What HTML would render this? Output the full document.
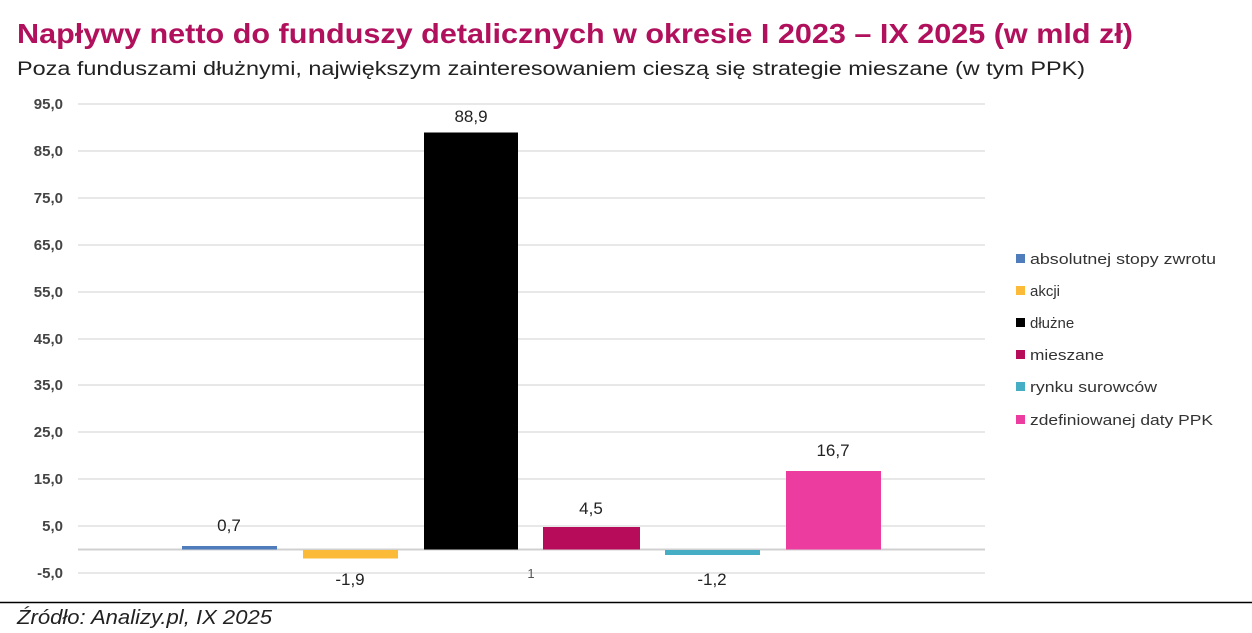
<!DOCTYPE html><html><head><meta charset="utf-8"><style>
body{margin:0;width:1252px;height:633px;background:#fff;overflow:hidden;font-family:"Liberation Sans",sans-serif;position:relative}
.a{position:absolute;white-space:nowrap}
</style></head><body>
<svg class="a" style="left:0;top:0" width="1252" height="633">
<text x="17" y="43" font-size="28" font-weight="bold" fill="#b0105c" textLength="1116" lengthAdjust="spacingAndGlyphs">Napływy netto do funduszy detalicznych w okresie I 2023 – IX 2025 (w mld zł)</text>
<text x="17" y="75" font-size="19" fill="#222" textLength="1068" lengthAdjust="spacingAndGlyphs">Poza funduszami dłużnymi, największym zainteresowaniem cieszą się strategie mieszane (w tym PPK)</text>
<g stroke="#e8e8e8" stroke-width="2">
<line x1="78" x2="985" y1="104" y2="104"/><line x1="78" x2="985" y1="151" y2="151"/><line x1="78" x2="985" y1="198" y2="198"/><line x1="78" x2="985" y1="245" y2="245"/><line x1="78" x2="985" y1="292" y2="292"/><line x1="78" x2="985" y1="339" y2="339"/><line x1="78" x2="985" y1="385" y2="385"/><line x1="78" x2="985" y1="432" y2="432"/><line x1="78" x2="985" y1="479" y2="479"/><line x1="78" x2="985" y1="526" y2="526"/><line x1="78" x2="985" y1="573" y2="573"/>
</g>
<line x1="78" x2="985" y1="549.5" y2="549.5" stroke="#d0d0d0" stroke-width="2"/>
<g font-size="15" fill="#444" text-anchor="end" font-weight="bold">
<text x="63" y="109">95,0</text><text x="63" y="156">85,0</text><text x="63" y="203">75,0</text><text x="63" y="250">65,0</text><text x="63" y="297">55,0</text><text x="63" y="344">45,0</text><text x="63" y="390">35,0</text><text x="63" y="437">25,0</text><text x="63" y="484">15,0</text><text x="63" y="531">5,0</text><text x="63" y="578">-5,0</text>
</g>
<rect x="182" y="546" width="95" height="3.5" fill="#4f7dbc"/>
<rect x="303" y="550" width="95" height="8.5" fill="#fbbb38"/>
<rect x="424" y="132.5" width="94" height="417" fill="#000"/>
<rect x="543" y="527" width="97" height="22.5" fill="#b70c5a"/>
<rect x="665" y="550" width="95" height="5" fill="#45adc4"/>
<rect x="786" y="471" width="95" height="78.5" fill="#ec3c9f"/>
<g font-size="17" fill="#222" text-anchor="middle">
<text x="229" y="531">0,7</text><text x="350" y="585">-1,9</text><text x="471" y="122">88,9</text><text x="591" y="514">4,5</text><text x="712" y="585">-1,2</text><text x="833" y="456">16,7</text>
</g>
<text x="531" y="578" font-size="13" fill="#555" text-anchor="middle">1</text>
<g font-size="15" fill="#333">
<rect x="1016" y="254" width="9" height="9" fill="#4f7dbc"/><text x="1030" y="264" textLength="186" lengthAdjust="spacingAndGlyphs">absolutnej stopy zwrotu</text>
<rect x="1016" y="286" width="9" height="9" fill="#fbbb38"/><text x="1030" y="296">akcji</text>
<rect x="1016" y="318" width="9" height="9" fill="#000"/><text x="1030" y="328">dłużne</text>
<rect x="1016" y="350" width="9" height="9" fill="#b70c5a"/><text x="1030" y="360" textLength="74" lengthAdjust="spacingAndGlyphs">mieszane</text>
<rect x="1016" y="382" width="9" height="9" fill="#45adc4"/><text x="1030" y="392" textLength="127" lengthAdjust="spacingAndGlyphs">rynku surowców</text>
<rect x="1016" y="415" width="9" height="9" fill="#ec3c9f"/><text x="1030" y="425" textLength="183" lengthAdjust="spacingAndGlyphs">zdefiniowanej daty PPK</text>
</g>
<line x1="0" x2="1252" y1="602.5" y2="602.5" stroke="#000" stroke-width="1.5"/>
<text x="17" y="624" font-size="20" font-style="italic" fill="#222" textLength="255" lengthAdjust="spacingAndGlyphs">Źródło: Analizy.pl, IX 2025</text>
</svg>
</body></html>
